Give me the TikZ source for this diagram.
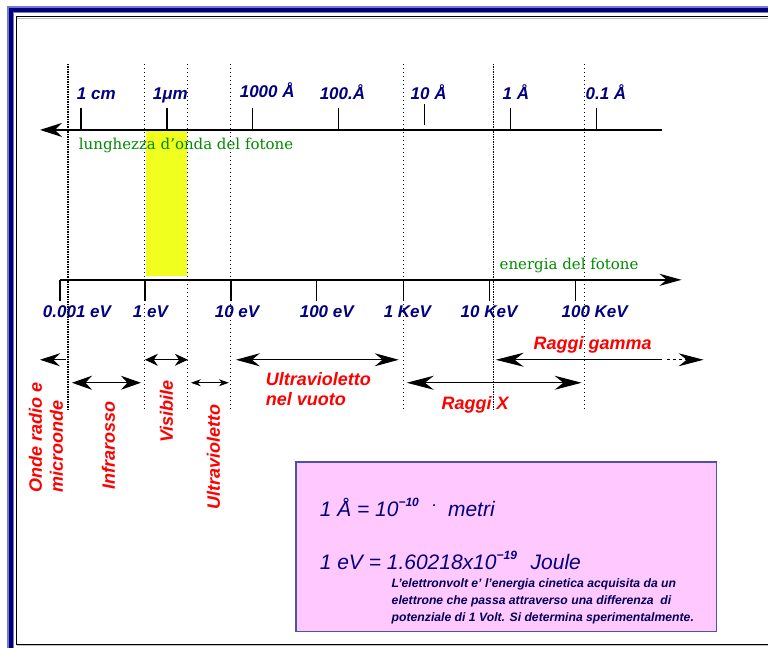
\documentclass[tikz,border=0pt]{standalone}
\usepackage{fontspec}
\setmainfont{Liberation Sans}
\newfontfamily\axisfont{DejaVu Serif}
\usetikzlibrary{arrows.meta}

\definecolor{navytext}{RGB}{0,0,128}
\definecolor{framenavy}{RGB}{0,0,120}
\definecolor{framelight}{RGB}{120,120,210}
\definecolor{labelred}{RGB}{255,0,0}
\definecolor{labelgreen}{RGB}{0,140,0}
\definecolor{boxpink}{RGB}{255,200,255}
\definecolor{boxedge}{RGB}{80,80,170}
\definecolor{bandyellow}{RGB}{240,255,30}

\newcommand{\expo}[1]{\raisebox{0.5em}{\fontsize{12}{12}\selectfont\bfseries #1}}

\begin{document}
\begin{tikzpicture}[
    x=1pt, y=-1pt,
    every node/.style={inner sep=0pt, outer sep=0pt},
    scalelabel/.style={anchor=base west, text=navytext, font=\fontsize{17}{17}\selectfont\bfseries\itshape},
    bandlabel/.style={anchor=base west, text=labelred, font=\fontsize{18}{18}\selectfont\bfseries\itshape},
    axisname/.style={anchor=base west, text=labelgreen, font=\axisfont\fontsize{15}{15}\selectfont},
    boxtext/.style={anchor=base west, text=navytext, font=\fontsize{21}{21}\selectfont\itshape},
    notetext/.style={anchor=base west, text=navytext!70!black, font=\fontsize{12.2}{12}\selectfont\bfseries\itshape},
    axisline/.style={line width=2.6pt},
    tickline/.style={line width=1.3pt},
    divider/.style={line width=1.1pt, dash pattern=on 1.5pt off 2.5pt},
    bandarrow/.style={line width=1pt},
    >={Stealth[length=22pt,width=12pt]}
]
\fill[white] (0,0) rectangle (768,648);

% frame
\fill[framelight] (7,6.5) rectangle (768,13.5);
\fill[framelight] (7,6.5) rectangle (14,648);
\fill[framenavy] (9,8.3) rectangle (768,12.3);
\fill[framenavy] (9,8.3) rectangle (12.7,648);
\draw[line width=1pt] (768,17) -- (16.5,17) -- (16.5,644.5) -- (768,644.5);
\draw[gray!50, line width=1pt] (17.5,18.4) -- (768,18.4);
\draw[gray!50, line width=1pt] (17,646.2) -- (768,646.2);

% visible band
\fill[bandyellow] (146,131) rectangle (187,276);

\foreach \x in {68,494}
    \draw[divider, dash pattern=on 1.5pt off 1pt] (\x,64) -- (\x,410);
\foreach \x in {145,188,231,404,585}
    \draw[divider] (\x,64) -- (\x,410);

% wavelength axis
\draw[axisline, <-, >={Stealth[length=22pt,width=14pt]}] (40,130) -- (662,130);
\foreach \x in {81,167,253,339,511,597}
    \draw[tickline] (\x,108) -- (\x,130);
\draw[tickline] (425,104) -- (425,125);

\node[scalelabel] (lcm) at (77,100) {1 cm};
\node[scalelabel] (lum) at (153,100) {1μm};
\node[scalelabel] (l1000) at (240,98) {1000 Å};
\node[scalelabel] (l100) at (320,100) {100.Å};
\node[scalelabel] (l10) at (411,100) {10 Å};
\node[scalelabel] (l1) at (503,100) {1 Å};
\node[scalelabel] (l01) at (586,100) {0.1 Å};
\node[axisname] (wavename) at (79,150) {lunghezza d’onda del fotone};

% energy axis
\draw[axisline, ->] (60,280) -- (682,280);
\foreach \x in {60,145,231,317,404,490,576}
    \draw[tickline] (\x,280) -- (\x,301);

\node[scalelabel] (e0001) at (43,318) {0.001 eV};
\node[scalelabel] (e1) at (133,318) {1 eV};
\node[scalelabel] (e10) at (215,318) {10 eV};
\node[scalelabel] (e100) at (300,318) {100 eV};
\node[scalelabel] (k1) at (384,318) {1 KeV};
\node[scalelabel] (k10) at (461,318) {10 KeV};
\node[scalelabel] (k100) at (562,318) {100 KeV};
\node[axisname] (energyname) at (500,270) {energia del fotone};

% bands
\draw[bandarrow, <-, >={Stealth[length=20pt,width=13pt]}] (40,360) -- (66,360);
\draw[bandarrow, <->, >={Stealth[length=20pt,width=14pt]}] (72,383) -- (141,383);
\draw[bandarrow, <->, >={Stealth[length=13pt,width=12pt]}] (145,360) -- (188,360);
\draw[bandarrow, <->, >={Stealth[length=10pt,width=7pt]}] (191,383) -- (229,383);
\draw[bandarrow, <->, >={Stealth[length=24pt,width=13pt]}] (236,360) -- (399,360);
\draw[bandarrow, <->, >={Stealth[length=27pt,width=14pt]}] (407,383) -- (582,383);
\draw[bandarrow, <-, >={Stealth[length=28pt,width=14pt]}] (496,360) -- (662,360);
\draw[bandarrow, dash pattern=on 3pt off 3pt, ->, >={Stealth[length=25pt,width=13pt]}] (667,360) -- (704,360);

\node[bandlabel, rotate=90] (onde) at (42,493) {Onde radio e};
\node[bandlabel, rotate=90] (micro) at (63,493) {microonde};
\node[bandlabel, rotate=90] (infra) at (115,490) {Infrarosso};
\node[bandlabel, rotate=90] (visib) at (173,443) {Visibile};
\node[bandlabel, rotate=90] (ultra) at (220,510) {Ultravioletto};
\node[bandlabel] (vuoto1) at (266,386) {Ultravioletto};
\node[bandlabel] (vuoto2) at (266,406) {nel vuoto};
\node[bandlabel] (raggix) at (442,410) {Raggi X};
\node[bandlabel] (gamma) at (534,350) {Raggi gamma};

% units box
\draw[boxedge, fill=boxpink, line width=1.8pt] (296,462) rectangle (717,632);
\node[boxtext] (angstrom) at (320,517) {1 Å = 10\expo{−10\hspace{14pt}.}\hspace{6pt} metri};
\node[boxtext] (evolt) at (320,570) {1 eV = 1.60218x10\expo{−19}\hspace{8pt} Joule};
\node[notetext] (note1) at (392,588) {L’elettronvolt e’ l’energia cinetica acquisita da un};
\node[notetext] (note2) at (392,605) {elettrone che passa attraverso una differenza\ \ di};
\node[notetext] (note3) at (392,622) {potenziale di 1 Volt. Si determina sperimentalmente.};
\end{tikzpicture}
\end{document}
